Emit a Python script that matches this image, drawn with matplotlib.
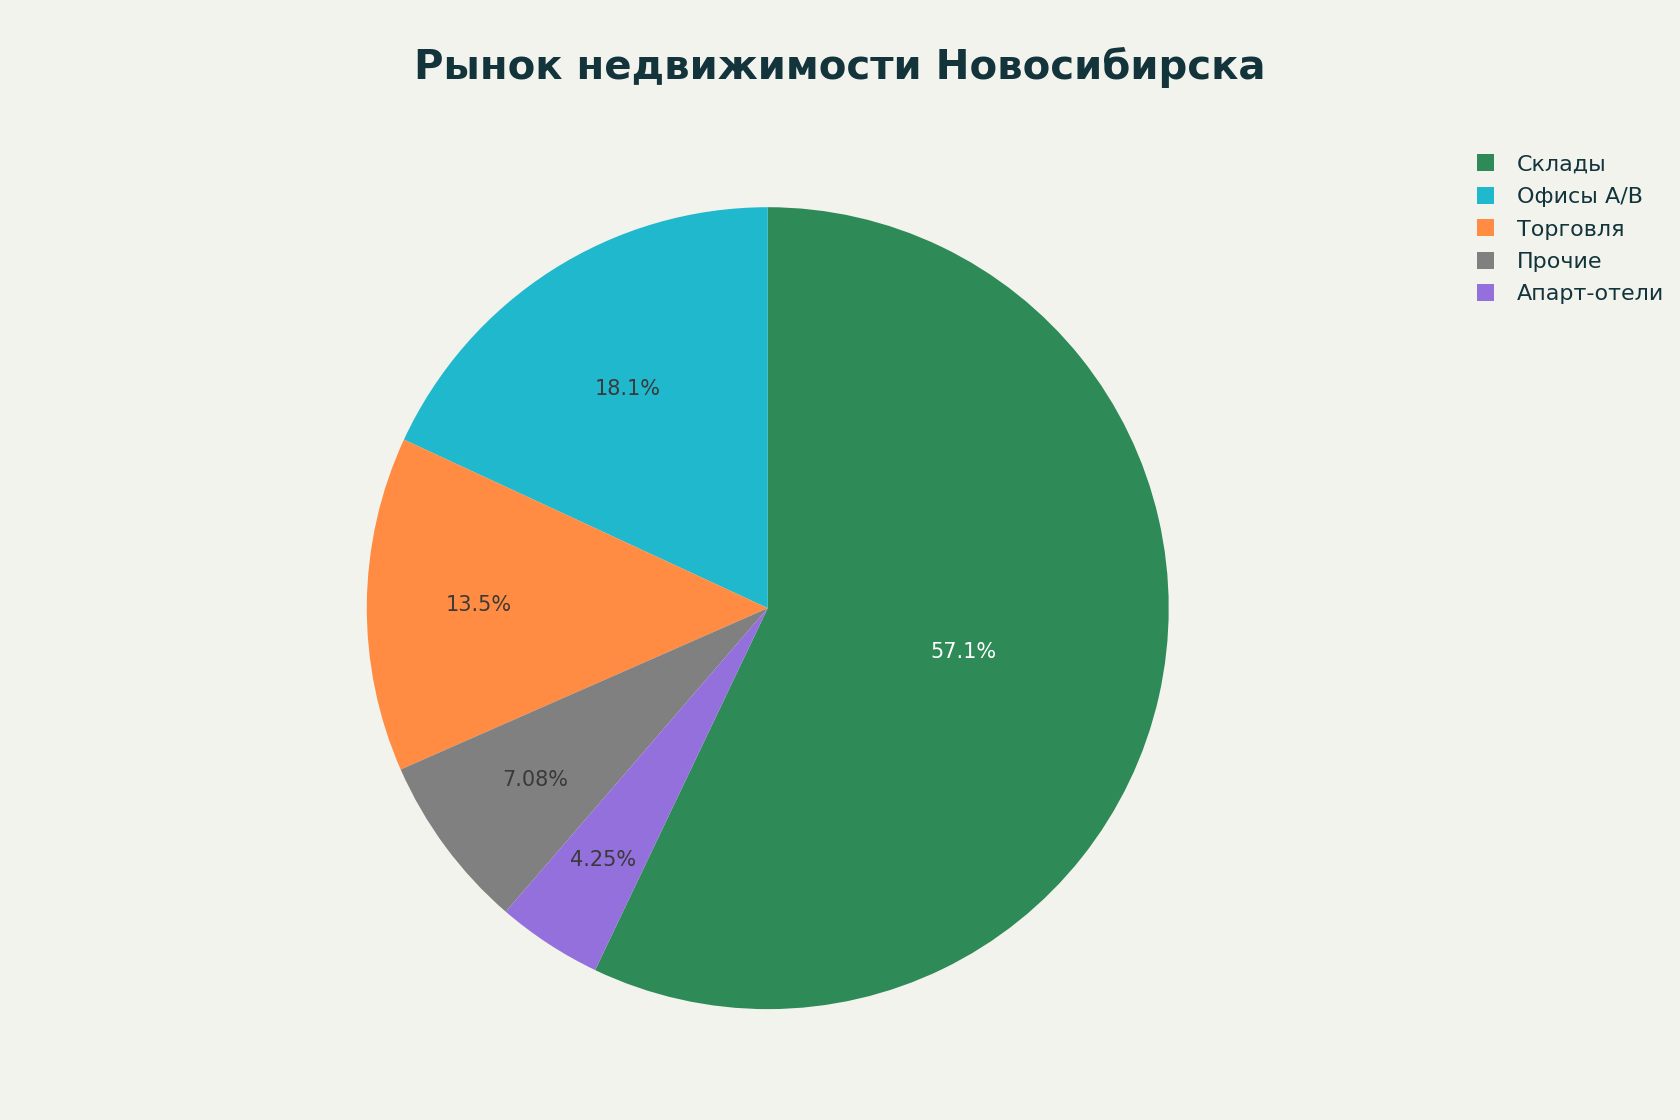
import matplotlib
matplotlib.use("Agg")
import matplotlib.pyplot as plt
import numpy as np
from matplotlib.patches import Patch

labels = ["Склады", "Офисы A/B", "Торговля", "Прочие", "Апарт-отели"]
values = [57.1, 18.1, 13.5, 7.08, 4.25]
pct_text = ["57.1%", "18.1%", "13.5%", "7.08%", "4.25%"]
colors = ["#2E8B57", "#1FB8CD", "#FF8C42", "#808080", "#9370DB"]
text_colors = ["white", "#3a3a3a", "#3a3a3a", "#3a3a3a", "#3a3a3a"]

bg = "#F3F3EE"
fig = plt.figure(figsize=(16.8, 11.2), dpi=100, facecolor=bg)
size = 0.716
w_frac = size * 11.2 / 16.8
ax = fig.add_axes([0.457 - w_frac / 2, 0.457 - size / 2, w_frac, size])
ax.set_facecolor(bg)
start = 90 - values[0] / sum(values) * 360
wedges, _ = ax.pie(values, colors=colors, startangle=start, counterclock=True,
                   wedgeprops=dict(linewidth=0))
ax.set_xlim(-1, 1)
ax.set_ylim(-1, 1)
ax.set_aspect("equal")
dists = [0.5, 0.65, 0.72, 0.72, 0.75]
for w, t, c, d in zip(wedges, pct_text, text_colors, dists):
    ang = np.deg2rad((w.theta1 + w.theta2) / 2)
    ax.text(d * np.cos(ang), d * np.sin(ang), t, ha="center", va="center",
            color=c, fontsize=15)

fig.text(0.5, 0.94, "Рынок недвижимости Новосибирска", ha="center", va="center",
         fontsize=29, fontweight="heavy", color="#13343B")
handles = [Patch(facecolor=c, label=l) for c, l in zip(colors, labels)]
leg = fig.legend(handles=handles, loc="upper left", bbox_to_anchor=(0.867, 0.88),
                 frameon=False, fontsize=16, handlelength=0.8, handleheight=0.8,
                 labelspacing=0.55, handletextpad=1.0)
for t in leg.get_texts():
    t.set_color("#13343B")
fig.savefig("out.png", facecolor=bg)
